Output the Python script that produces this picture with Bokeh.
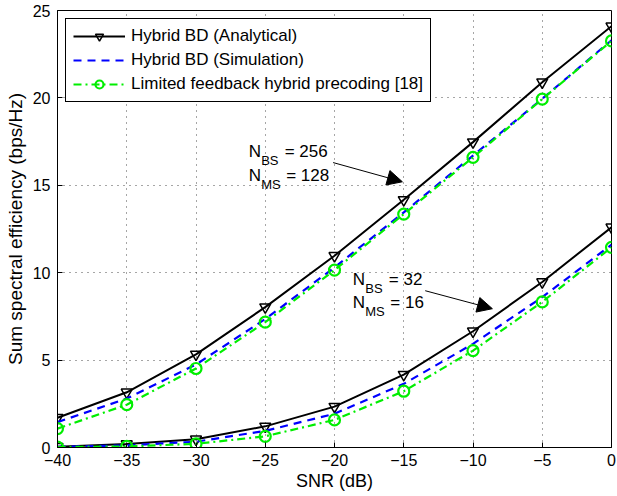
from bokeh.plotting import figure
from bokeh.models import Label, Arrow, NormalHead, Legend, LegendItem, Range1d, FixedTicker
from bokeh.embed import file_html
from bokeh.resources import INLINE

snr = [-40, -35, -30, -25, -20, -15, -10, -5, 0]
ana_256 = [1.7, 3.16, 5.33, 8.03, 10.97, 14.17, 17.47, 20.9, 24.1]
sim_256 = [1.45, 2.8, 4.75, 7.35, 10.3, 13.45, 16.7, 19.95, 23.3]
lf_256 = [1.08, 2.45, 4.52, 7.17, 10.15, 13.35, 16.6, 19.93, 23.26]
ana_32 = [0.05, 0.2, 0.47, 1.21, 2.34, 4.17, 6.65, 9.47, 12.6]
sim_32 = [0.04, 0.12, 0.33, 0.95, 1.93, 3.64, 5.93, 8.6, 11.6]
lf_32 = [0.02, 0.06, 0.21, 0.64, 1.58, 3.22, 5.54, 8.33, 11.45]

x_ticks = [-40, -35, -30, -25, -20, -15, -10, -5, 0]
x_tick_labels = ["\u221240", "\u221235", "\u221230", "\u221225", "\u221220", "\u221215", "\u221210", "\u22125", "0"]
y_ticks = [0, 5, 10, 15, 20, 25]
y_tick_labels = ["0", "5", "10", "15", "20", "25"]

series_labels = ["Hybrid BD (Analytical)", "Hybrid BD (Simulation)", "Limited feedback hybrid precoding [18]"]

FONT = "Liberation Sans"

p = figure(width=617, height=496, output_backend="svg", toolbar_location=None,
           x_range=Range1d(-40, 0), y_range=Range1d(0, 25),
           min_border_left=57, min_border_right=6, min_border_top=10, min_border_bottom=49)
p.outline_line_color = "black"
p.outline_line_width = 1
p.background_fill_color = "white"
p.border_fill_color = "white"

p.xaxis.ticker = FixedTicker(ticks=x_ticks)
p.yaxis.ticker = FixedTicker(ticks=y_ticks)
p.xaxis.major_label_overrides = {t: l for t, l in zip(x_ticks, x_tick_labels)}
p.yaxis.major_label_overrides = {t: l for t, l in zip(y_ticks, y_tick_labels)}
for ax in (p.xaxis, p.yaxis):
    ax.major_tick_in = 5
    ax.major_tick_out = 0
    ax.minor_tick_in = 0
    ax.minor_tick_out = 0
    ax.axis_line_color = "black"
    ax.major_tick_line_color = "black"
    ax.major_label_text_font = FONT
    ax.major_label_text_font_size = "16px"
    ax.major_label_text_color = "black"
    ax.axis_label_text_font = FONT
    ax.axis_label_text_font_style = "normal"
    ax.axis_label_text_color = "black"
p.xaxis.axis_label = "SNR (dB)"
p.yaxis.axis_label = "Sum spectral efficiency (bps/Hz)"
p.xaxis.axis_label_text_font_size = "18px"
p.yaxis.axis_label_text_font_size = "19px"
p.xaxis.major_label_standoff = 6
p.xaxis.axis_label_standoff = 2
p.yaxis.major_label_standoff = 7
p.yaxis.axis_label_standoff = 4

p.grid.grid_line_color = "black"
p.grid.grid_line_alpha = 0.7
p.grid.grid_line_dash = "1 5"
p.grid.grid_line_width = 1

rend = {}
for name, ana, sim, lf in (("256", ana_256, sim_256, lf_256), ("32", ana_32, sim_32, lf_32)):
    r1 = p.line(snr, ana, line_color="black", line_width=2)
    r1m = p.scatter(snr, ana, marker="inverted_triangle", size=11, line_color="black",
                    fill_color=None, line_width=1.5)
    r2 = p.line(snr, sim, line_color="#0000ff", line_width=2.2, line_dash="8 6")
    r3 = p.line(snr, lf, line_color="#00ee00", line_width=2.2, line_dash="8 4 2 4")
    r3m = p.scatter(snr, lf, marker="circle", size=11, line_color="#00ee00",
                    fill_color=None, line_width=2.2)
    rend[name] = (r1, r1m, r2, r3, r3m)

r1, r1m, r2, r3, r3m = rend["256"]
legend = Legend(items=[
    LegendItem(label=series_labels[0], renderers=[r1, r1m]),
    LegendItem(label=series_labels[1], renderers=[r2]),
    LegendItem(label=series_labels[2], renderers=[r3, r3m]),
], location="top_left")
legend.border_line_color = "black"
legend.border_line_width = 1
legend.border_line_alpha = 1
legend.background_fill_alpha = 1
legend.label_text_font = FONT
legend.label_text_font_size = "17px"
legend.label_text_color = "black"
legend.glyph_width = 52
legend.glyph_height = 20
legend.label_height = 20
legend.spacing = 4
legend.padding = 7
legend.margin = 8
legend.label_standoff = 6
p.add_layout(legend)

def sub_label(x, y, main, sub, rest):
    fs_main = "17px"
    fs_sub = "13px"
    p.add_layout(Label(x=x, y=y, text=main, text_font=FONT, text_font_size=fs_main,
                       text_baseline="middle", text_color="black"))
    p.add_layout(Label(x=x, y=y, x_offset=12.5, y_offset=-9, text=sub, text_font=FONT,
                       text_font_size=fs_sub, text_baseline="middle", text_color="black"))
    p.add_layout(Label(x=x, y=y, x_offset=36 if sub == "BS" else 37.5, text=rest,
                       text_font=FONT, text_font_size=fs_main, text_baseline="middle",
                       text_color="black"))

sub_label(-26.2, 16.91, "N", "BS", "= 256")
sub_label(-26.2, 15.54, "N", "MS", "= 128")
sub_label(-18.68, 9.6, "N", "BS", "= 32")
sub_label(-18.68, 8.29, "N", "MS", "= 16")

p.add_layout(Arrow(end=NormalHead(size=15, fill_color="black", line_color="black"),
                   x_start=-20.1, y_start=16.3, x_end=-15.1, y_end=15.2,
                   line_color="black", line_width=1))
p.add_layout(Arrow(end=NormalHead(size=15, fill_color="black", line_color="black"),
                   x_start=-13.45, y_start=8.97, x_end=-8.6, y_end=7.94,
                   line_color="black", line_width=1))

open("out.html", "w").write(file_html(p, INLINE))
